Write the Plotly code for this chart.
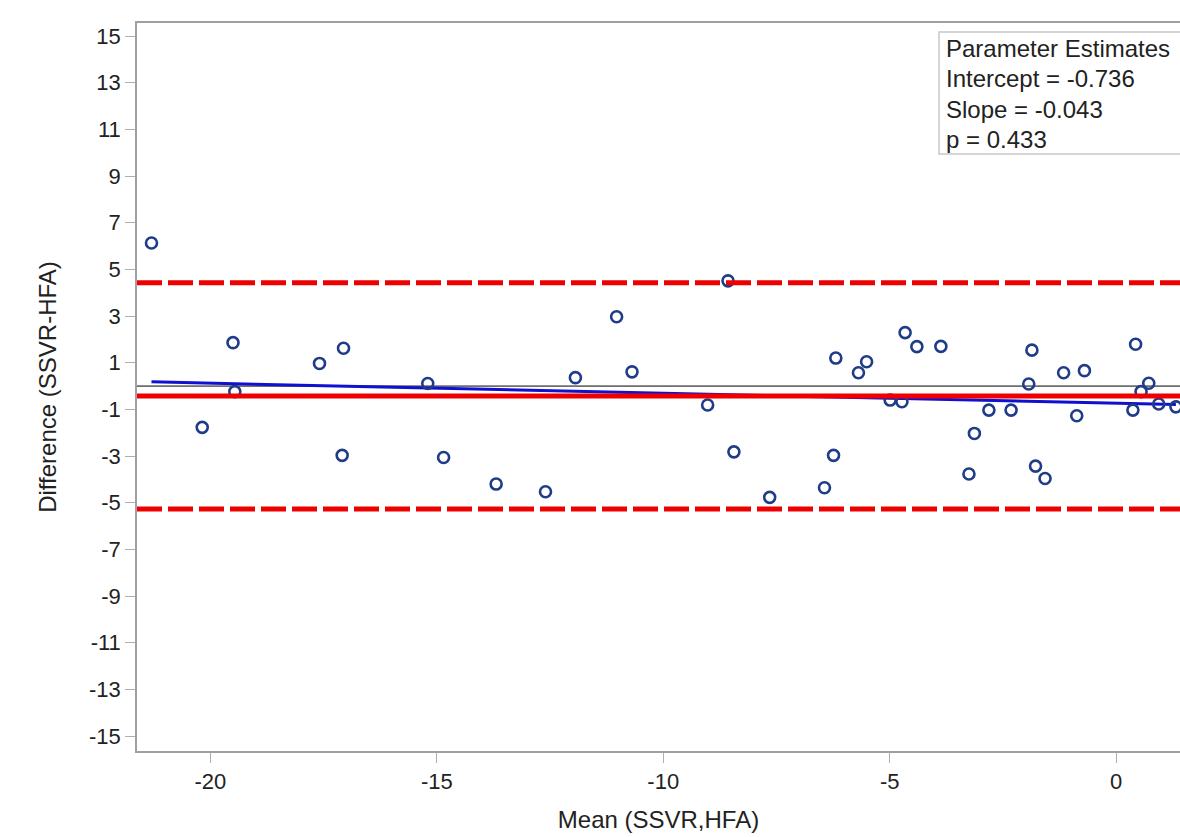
import plotly.graph_objects as go

# ---- data ----
mean_vals = [-21.30, -19.50, -19.46, -20.18, -17.59, -17.06, -17.09, -15.20, -14.85, -13.69,
             -12.60, -11.94, -11.03, -10.69, -9.02, -8.57, -8.44, -7.65, -6.44, -6.24,
             -6.19, -5.69, -5.51, -4.99, -4.73, -4.66, -4.40, -3.87, -3.25, -3.13,
             -2.81, -2.32, -1.93, -1.86, -1.78, -1.57, -1.16, -0.87, -0.70, 0.37,
             0.43, 0.55, 0.72, 0.94, 1.32]
diff_vals = [6.13, 1.86, -0.24, -1.77, 0.97, 1.62, -2.97, 0.11, -3.06, -4.20,
             -4.53, 0.36, 2.97, 0.61, -0.81, 4.51, -2.82, -4.77, -4.36, -2.97,
             1.20, 0.57, 1.04, -0.60, -0.67, 2.29, 1.69, 1.70, -3.77, -2.03,
             -1.03, -1.03, 0.09, 1.54, -3.43, -3.96, 0.57, -1.27, 0.66, -1.03,
             1.79, -0.24, 0.12, -0.77, -0.89]

bias = -0.43
loa_upper = 4.43
loa_lower = -5.27
intercept = -0.736
slope = -0.043
p_value = 0.433

y_ticks = [-15, -13, -11, -9, -7, -5, -3, -1, 1, 3, 5, 7, 9, 11, 13, 15]
x_ticks = [-20, -15, -10, -5, 0]

x_range = [-21.62, 1.41]
y_range = [-15.64, 15.56]

FONT = "Liberation Sans, Arial, sans-serif"

# ---- figure ----
fig = go.Figure()

x_min, x_max = min(mean_vals), max(mean_vals)

# zero reference line
fig.add_trace(go.Scatter(x=x_range, y=[0, 0], mode="lines",
                         line=dict(color="black", width=1), hoverinfo="skip", showlegend=False))
# regression line
fig.add_trace(go.Scatter(x=[x_min, x_max],
                         y=[intercept + slope * x_min, intercept + slope * x_max],
                         mode="lines", line=dict(color="#1010d0", width=3),
                         hoverinfo="skip", showlegend=False))
# data points
fig.add_trace(go.Scatter(x=mean_vals, y=diff_vals, mode="markers",
                         marker=dict(symbol="circle-open", size=11, color="#1f3c88",
                                     line=dict(width=2.6, color="#1f3c88")),
                         showlegend=False))
# bias line
fig.add_trace(go.Scatter(x=x_range, y=[bias, bias], mode="lines",
                         line=dict(color="#ee0000", width=5), hoverinfo="skip", showlegend=False))
# limits of agreement
for v in (loa_upper, loa_lower):
    fig.add_trace(go.Scatter(x=x_range, y=[v, v], mode="lines",
                             line=dict(color="#ee0000", width=5, dash="25px,6px"),
                             hoverinfo="skip", showlegend=False))

axis_common = dict(showgrid=False, zeroline=False, showline=True, linecolor="#a0a0a0",
                   linewidth=1.5, ticks="outside", ticklen=10, tickwidth=1,
                   tickcolor="#b0b0b0",
                   tickfont=dict(family=FONT, size=22, color="#222"))

fig.update_xaxes(range=x_range, tickvals=x_ticks, ticktext=[str(t) for t in x_ticks],
                 mirror=True,
                 title=dict(text="Mean (SSVR,HFA)", standoff=18,
                            font=dict(family=FONT, size=24, color="#222")),
                 **axis_common)
fig.update_yaxes(range=y_range, tickvals=y_ticks, ticktext=[str(t) for t in y_ticks],
                 mirror=False,
                 title=dict(text="Difference (SSVR-HFA)", standoff=26,
                            font=dict(family=FONT, size=24, color="#222")),
                 **axis_common)

# parameter estimates box
box_x0 = (939 - 137) / 1043
fig.add_shape(type="rect", xref="paper", yref="paper",
              x0=box_x0, x1=1.05, y0=(751 - 154) / 728, y1=(751 - 32) / 728,
              line=dict(color="#c8c8c8", width=1.5), fillcolor="white", layer="above")

lines = ["Parameter Estimates",
         f"Intercept = {intercept:.3f}",
         f"Slope = {slope:.3f}",
         f"p = {p_value:.3f}"]
line_y = [49, 79, 109, 139]
for txt, py in zip(lines, line_y):
    fig.add_annotation(xref="paper", yref="paper", x=(944 - 137) / 1043, y=(751 - py) / 728,
                       text=txt, showarrow=False, xanchor="left", yanchor="middle",
                       font=dict(family=FONT, size=24, color="#222"))

fig.update_layout(width=1180, height=837, plot_bgcolor="white", paper_bgcolor="white",
                  margin=dict(l=137, r=0, t=23, b=86), showlegend=False)

fig.write_html("out.html", config={"displayModeBar": False},
               post_script="document.body.style.margin='0';document.body.style.overflow='hidden';")
